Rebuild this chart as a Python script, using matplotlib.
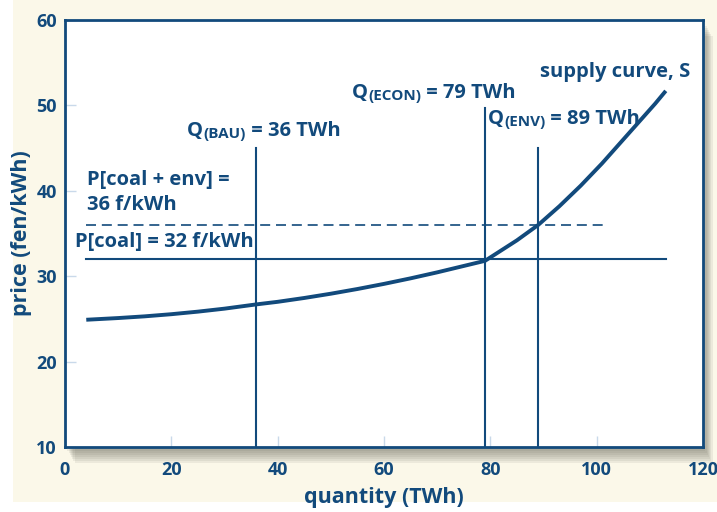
import numpy as np
import matplotlib
matplotlib.use("Agg")
import matplotlib.pyplot as plt
from matplotlib.patches import Rectangle

plt.rcParams['font.family'] = ['Open Sans', 'DejaVu Sans']

# supply curve (TWh, fen/kWh)
curve_q = [4, 10, 15, 20, 25, 30, 36, 40, 45, 50, 55, 60, 65, 70, 75, 79,
           81, 83, 85, 87, 89, 91, 93, 95, 97, 99, 101, 103, 105, 107, 109, 111, 113]
curve_p = [24.9, 25.1, 25.3, 25.55, 25.85, 26.2, 26.7, 27.0, 27.45, 27.95, 28.5, 29.1, 29.75, 30.45, 31.2, 31.8,
           32.6, 33.4, 34.2, 35.1, 36.0, 37.1, 38.2, 39.4, 40.6, 41.9, 43.2, 44.6, 46.0, 47.4, 48.8, 50.2, 51.7]

q_bau, q_econ, q_env = 36, 79, 89
p_coal, p_env = 32, 36
q_start = 4
q_end_solid, q_end_dash = 113, 102
vtop_bau, vtop_econ, vtop_env = 45, 49.7, 45

xticks = [0, 20, 40, 60, 80, 100, 120]
yticks = [10, 20, 30, 40, 50, 60]

navy = '#124a7c'
cream = '#fbf8e9'

fig = plt.figure(figsize=(7.17, 5.12), dpi=100)
fig.patch.set_facecolor('white')
# cream backdrop
fig.patches.append(Rectangle((13/717, 10/512), 1, 1, transform=fig.transFigure,
                             facecolor=cream, edgecolor='none', zorder=-10))

ax = fig.add_axes([65/717, 65/512, 638/717, 427/512])

# soft drop shadow below / right of the plot box
for off in range(16, 0, -2):
    fig.patches.append(Rectangle(((65 + off*0.6)/717, (65 - off)/512), 638/717, 427/512,
                                 transform=fig.transFigure, facecolor='#5a5a50',
                                 edgecolor='none', alpha=0.09, zorder=-5))

ax.set_facecolor('white')
ax.plot(curve_q, curve_p, color=navy, lw=2.8, solid_joinstyle='round',
        solid_capstyle='butt', zorder=4)
ax.plot([q_start, q_end_solid], [p_coal, p_coal], color=navy, lw=1.5)
ax.plot([q_start, q_end_dash], [p_env, p_env], color=navy, lw=1.2, ls=(0, (6, 3.5)))
ax.plot([q_bau, q_bau], [10, vtop_bau], color=navy, lw=1.5)
ax.plot([q_econ, q_econ], [10, vtop_econ], color=navy, lw=1.5)
ax.plot([q_env, q_env], [10, vtop_env], color=navy, lw=1.5)

ax.set_xlim(0, 120)
ax.set_ylim(10, 60)
ax.set_xticks(xticks)
ax.set_yticks(yticks)
ax.tick_params(direction='in', length=8, color='#c9d9ea', width=1,
               labelsize=13, labelcolor=navy)
ax.tick_params(axis='x', pad=10)
ax.tick_params(axis='y', pad=6)
for lab in ax.get_xticklabels() + ax.get_yticklabels():
    lab.set_fontweight('bold')
for s in ax.spines.values():
    s.set_color(navy)
    s.set_linewidth(2)

ax.set_xlabel('quantity (TWh)', fontsize=15.5, fontweight='bold', color=navy, labelpad=6)
ax.set_ylabel('price (fen/kWh)', fontsize=15.5, fontweight='bold', color=navy, labelpad=3)

fs = 14.5
def q_label(x, y, sub, rest):
    t1 = ax.text(x, y, 'Q', fontsize=fs, fontweight='bold', color=navy, va='bottom')
    t2 = ax.annotate(sub, xy=(1, 0), xycoords=t1, fontsize=11, fontweight='bold',
                     color=navy, va='bottom')
    ax.annotate(rest, xy=(1, 0), xycoords=t2, fontsize=fs, fontweight='bold',
                color=navy, va='bottom')

q_label(23, 45.8, '(BAU)', ' = 36 TWh')
q_label(54, 50.3, '(ECON)', ' = 79 TWh')
q_label(79.6, 47.2, '(ENV)', ' = 89 TWh')

ax.text(89.3, 53.9, 'supply curve, S', fontsize=fs, fontweight='bold', color=navy, va='center')
ax.text(4.1, 41.3, 'P[coal + env] =', fontsize=fs, fontweight='bold', color=navy, va='center')
ax.text(4.1, 38.3, '36 f/kWh', fontsize=fs, fontweight='bold', color=navy, va='center')
ax.text(1.9, 34.0, 'P[coal] = 32 f/kWh', fontsize=fs, fontweight='bold', color=navy, va='center')

fig.savefig('out.png', dpi=100, facecolor=fig.get_facecolor())
